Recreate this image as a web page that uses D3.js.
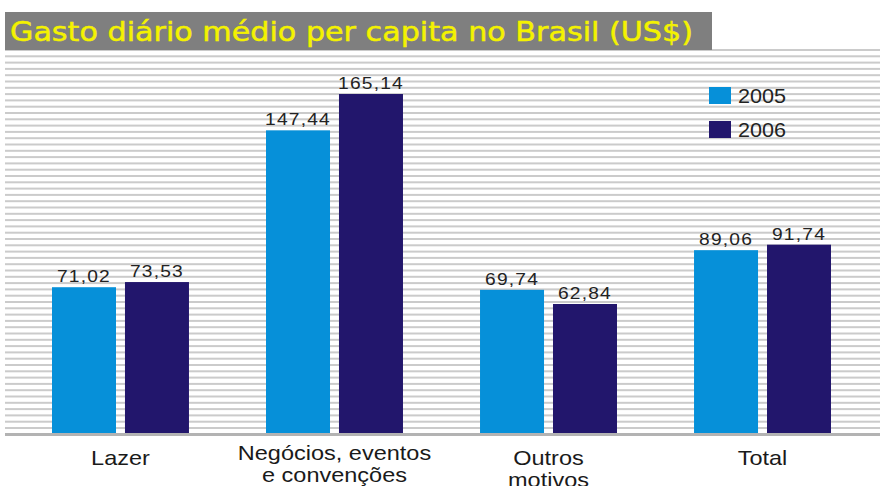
<!DOCTYPE html>
<html><head><meta charset="utf-8">
<script src="https://cdn.jsdelivr.net/npm/d3@7"></script>
<style>html,body{margin:0;padding:0;background:#fff;}svg{display:block;}</style>
</head><body>
<script>
const title = "Gasto diário médio per capita no Brasil (US$)";
const categories = [["Lazer"], ["Negócios, eventos", "e convenções"], ["Outros", "motivos"], ["Total"]];
const seriesNames = ["2005", "2006"];
const values2005 = [71.02, 147.44, 69.74, 89.06];
const values2006 = [73.53, 165.14, 62.84, 91.74];
const valueLabels2005 = ["71,02", "147,44", "69,74", "89,06"];
const valueLabels2006 = ["73,53", "165,14", "62,84", "91,74"];
const colors = ["#0690d9", "#22166c"];

const W = 880, H = 486;
const svg = d3.select("body").append("svg").attr("width", W).attr("height", H);

const baseY = 433;
const y = d3.scaleLinear().domain([0, 165.14]).range([baseY, 94]);
const x0 = d3.scaleBand().domain(d3.range(categories.length)).range([52, 831]).paddingInner(0.36).paddingOuter(0);
const x1 = d3.scaleBand().domain(seriesNames).range([0, x0.bandwidth()]).paddingInner(0.123).paddingOuter(0);

// striped background
const stripes = d3.range(49, baseY - 2, 6.3);
svg.append("g").selectAll("rect").data(stripes).join("rect")
  .attr("x", 5).attr("width", W - 5).attr("y", d => d).attr("height", 2)
  .attr("fill", "#cbcbcb");

// title
svg.append("rect").attr("x", 5).attr("y", 12).attr("width", 707).attr("height", 38).attr("fill", "#7f7f7f");
svg.append("text").attr("x", 10).attr("y", 41).text(title)
  .attr("font-family", "DejaVu Sans").attr("font-size", 27).attr("fill", "#f4f200")
  .attr("stroke", "#f4f200").attr("stroke-width", 0.5)
  .attr("textLength", 683).attr("lengthAdjust", "spacingAndGlyphs");

// baseline
svg.append("rect").attr("x", 5).attr("y", baseY).attr("width", W - 5).attr("height", 3).attr("fill", "#b3b3b3");

const data = categories.map((c, i) => ({
  i, vals: [
    {s: "2005", v: values2005[i], lab: valueLabels2005[i], c: colors[0]},
    {s: "2006", v: values2006[i], lab: valueLabels2006[i], c: colors[1]}
  ]
}));

const g = svg.append("g").selectAll("g").data(data).join("g")
  .attr("transform", d => `translate(${x0(d.i)},0)`);
g.selectAll("rect").data(d => d.vals).join("rect")
  .attr("x", d => x1(d.s)).attr("width", x1.bandwidth())
  .attr("y", d => y(d.v)).attr("height", d => baseY - y(d.v))
  .attr("fill", d => d.c);
g.selectAll("text").data(d => d.vals).join("text")
  .attr("transform", d => `translate(${x1(d.s) + x1.bandwidth() / 2},${y(d.v) - 5}) scale(1.2,1)`)
  .attr("text-anchor", "middle").attr("font-family", "Liberation Sans, Arial")
  .attr("font-size", 16).attr("fill", "#222").attr("letter-spacing", 1)
  .text(d => d.lab);

// category labels
const cl = svg.append("g").selectAll("text").data(categories).join("text")
  .attr("text-anchor", "middle").attr("font-family", "Liberation Sans, Arial")
  .attr("font-size", 21).attr("fill", "#1a1a1a")
  .attr("transform", (d, i) => `translate(${x0(i) + x0.bandwidth() / 2},${i === 1 ? 460 : 465}) scale(1.12,1)`);
cl.selectAll("tspan").data(d => d).join("tspan")
  .attr("x", 0).attr("dy", (d, j) => j === 0 ? 0 : 22).text(d => d);

// legend
const leg = svg.append("g").selectAll("g").data(seriesNames).join("g")
  .attr("transform", (d, i) => `translate(709,${87 + i * 34})`);
leg.append("rect").attr("width", 22).attr("height", 17).attr("fill", (d, i) => colors[i]);
leg.append("text").attr("transform", "translate(29,16) scale(1.08,1)").attr("font-family", "Liberation Sans, Arial")
  .attr("font-size", 20).attr("fill", "#222").text(d => d);
</script>
</body></html>
